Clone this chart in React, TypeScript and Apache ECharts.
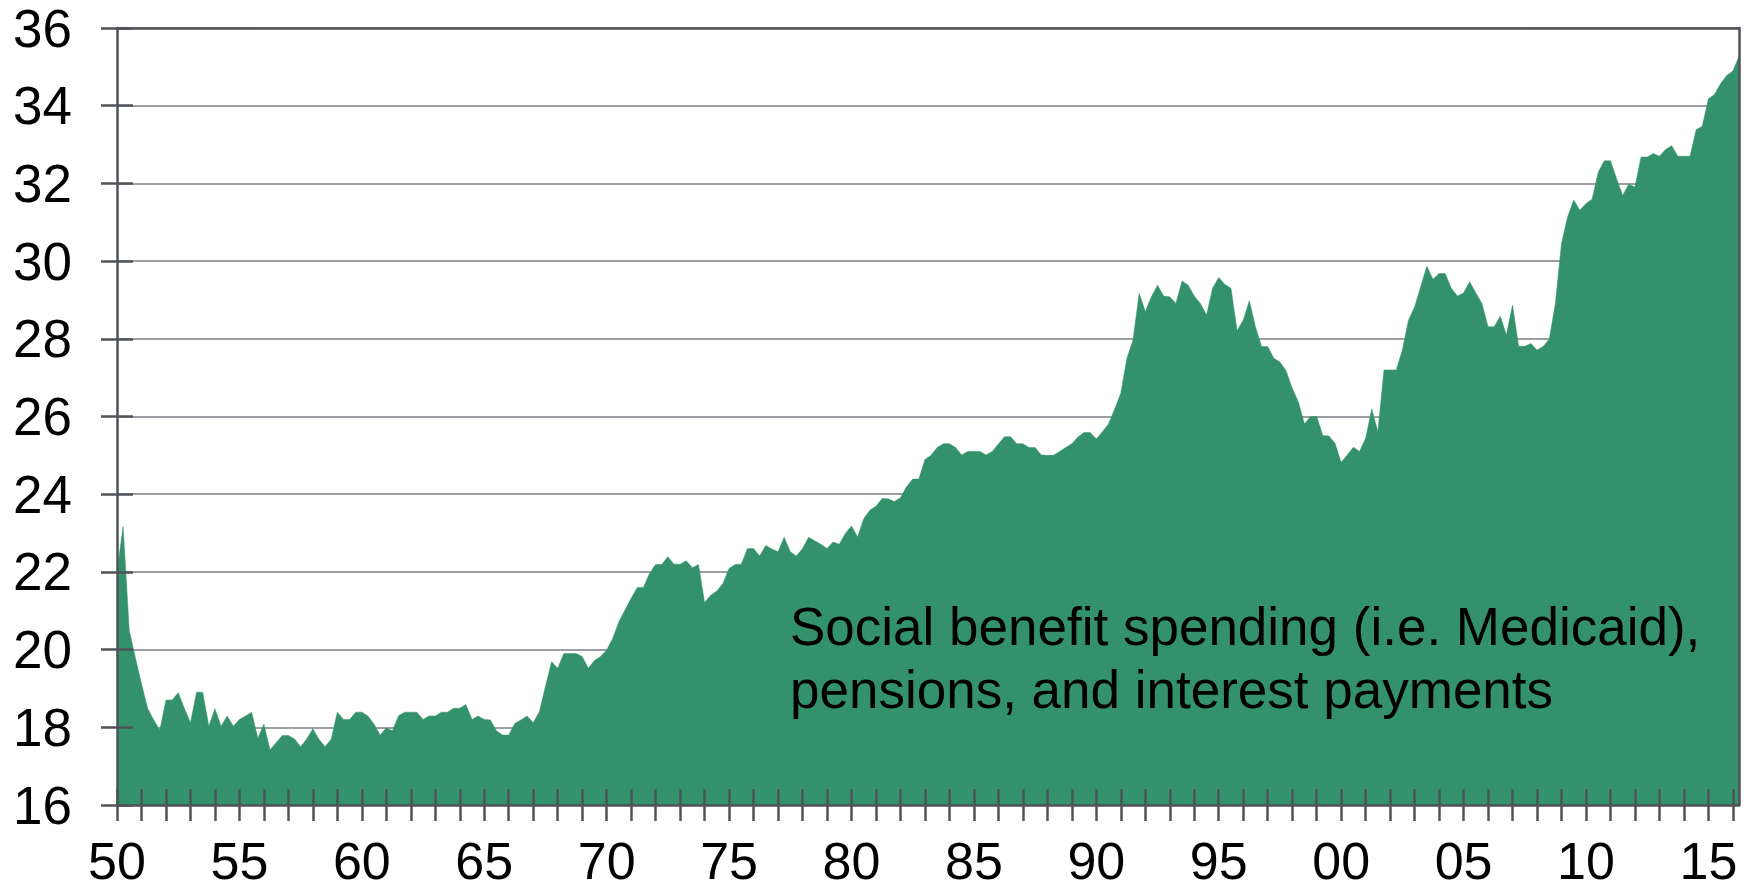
import React, { useEffect, useRef } from "react";
import * as echarts from "echarts";

// Quarterly values, 1950Q1 .. 2016Q2 (percent)
const v1950s = [22.0, 23.17, 20.5, 19.79, 19.12, 18.49, 18.19, 17.93, 18.7, 18.7,
  18.89, 18.49, 18.12, 18.9, 18.9, 18.03, 18.48, 18.03, 18.29, 18.03,
  18.2, 18.29, 18.39, 17.72, 18.08, 17.42, 17.6, 17.79, 17.79, 17.7,
  17.5, 17.7, 17.96, 17.69, 17.5, 17.7, 18.39, 18.2, 18.2, 18.39];
const v1960s = [18.39, 18.29, 18.08, 17.8, 17.99, 17.91, 18.3, 18.39, 18.39, 18.39,
  18.2, 18.29, 18.29, 18.39, 18.39, 18.49, 18.49, 18.59, 18.2, 18.29,
  18.2, 18.19, 17.91, 17.8, 17.8, 18.1, 18.19, 18.29, 18.12, 18.4,
  19.05, 19.69, 19.52, 19.9, 19.9, 19.9, 19.82, 19.52, 19.72, 19.82];
const v1970s = [19.99, 20.29, 20.72, 21.02, 21.32, 21.6, 21.6, 21.96, 22.19, 22.19,
  22.39, 22.2, 22.2, 22.29, 22.11, 22.19, 21.21, 21.4, 21.51, 21.7,
  22.09, 22.19, 22.2, 22.6, 22.6, 22.41, 22.68, 22.59, 22.52, 22.89,
  22.52, 22.41, 22.6, 22.89, 22.8, 22.71, 22.6, 22.77, 22.71, 22.99];
const v1980s = [23.18, 22.9, 23.37, 23.59, 23.69, 23.89, 23.88, 23.81, 23.91, 24.19,
  24.39, 24.39, 24.89, 25.0, 25.2, 25.3, 25.3, 25.2, 25.01, 25.1,
  25.1, 25.1, 25.01, 25.1, 25.29, 25.48, 25.48, 25.3, 25.3, 25.2,
  25.2, 25.01, 25.0, 25.0, 25.1, 25.2, 25.3, 25.47, 25.59, 25.59];
const v1990s = [25.42, 25.61, 25.81, 26.19, 26.6, 27.5, 27.97, 29.17, 28.7, 29.08,
  29.38, 29.1, 29.08, 28.91, 29.49, 29.38, 29.1, 28.91, 28.61, 29.3,
  29.58, 29.4, 29.3, 28.21, 28.48, 28.98, 28.31, 27.8, 27.8, 27.5,
  27.4, 27.18, 26.73, 26.38, 25.81, 26.0, 26.0, 25.51, 25.5, 25.31];
const v2000s = [24.82, 25.01, 25.21, 25.1, 25.44, 26.19, 25.61, 27.2, 27.2, 27.2,
  27.71, 28.48, 28.82, 29.34, 29.87, 29.53, 29.68, 29.68, 29.3, 29.1,
  29.18, 29.47, 29.18, 28.91, 28.31, 28.31, 28.58, 28.1, 28.87, 27.81,
  27.81, 27.88, 27.71, 27.8, 27.99, 28.91, 30.45, 31.14, 31.57, 31.31];
const v2010s = [31.48, 31.59, 32.29, 32.58, 32.58, 32.12, 31.69, 31.98, 31.91, 32.68,
  32.68, 32.77, 32.7, 32.87, 32.97, 32.7, 32.7, 32.7, 33.38, 33.47,
  34.18, 34.29, 34.57, 34.78, 34.89, 35.27];

const values = [...v1950s, ...v1960s, ...v1970s, ...v1980s, ...v1990s, ...v2000s, ...v2010s];

const startYear = 1950;
const quarters = ["Q1", "Q2", "Q3", "Q4"];
const categories: string[] = values.map(
  (_, i) => `${startYear + Math.floor(i / 4)}${quarters[i % 4]}`
);

const annotationLines = ["Social benefit spending (i.e. Medicaid),", "pensions, and interest payments"];

const GREEN = "#33926c";
const AXIS = "#4f5358";
const GRIDC = "#9b9ea2";
const FONT = "'Liberation Sans', Arial, sans-serif";

export default function App() {
  const ref = useRef<HTMLDivElement>(null);
  useEffect(() => {
    if (!ref.current) return;
    const chart = echarts.init(ref.current, undefined, { renderer: "svg" });
    const axisLineStyle = { color: AXIS, width: 2.5 };
    chart.setOption({
      animation: false,
      backgroundColor: "#ffffff",
      grid: { left: 117, right: 13, top: 28, bottom: 86, containLabel: false },
      xAxis: [
        {
          type: "category",
          data: categories,
          boundaryGap: false,
          position: "bottom",
          z: 0,
          axisLine: { show: false, onZero: false },
          axisTick: {
            show: true,
            inside: false,
            length: 16,
            interval: (idx: number) => idx % 4 === 0,
            lineStyle: axisLineStyle,
          },
          axisLabel: {
            show: true,
            interval: (idx: number) => idx % 20 === 0,
            formatter: (v: string, idx: number) => (idx % 20 === 0 ? v.slice(2, 4) : ""),
            fontSize: 52,
            lineHeight: 40,
            fontFamily: FONT,
            color: "#000",
            margin: 36,
          },
          splitLine: { show: false },
        },
        {
          type: "category",
          data: categories,
          boundaryGap: false,
          position: "bottom",
          z: 10,
          axisLine: { show: true, onZero: false, lineStyle: axisLineStyle },
          axisTick: {
            show: true,
            inside: true,
            length: 16,
            interval: (idx: number) => idx % 4 === 0,
            lineStyle: axisLineStyle,
          },
          axisLabel: { show: false },
          splitLine: { show: false },
        },
        {
          type: "category",
          data: categories,
          boundaryGap: false,
          position: "top",
          z: 10,
          axisLine: { show: true, onZero: false, lineStyle: axisLineStyle },
          axisTick: { show: false },
          axisLabel: { show: false },
          splitLine: { show: false },
        },
      ],
      yAxis: [
        {
          type: "value",
          min: 16,
          max: 36,
          interval: 2,
          position: "left",
          z: 0,
          axisLine: { show: false },
          axisTick: { show: true, inside: false, length: 16, lineStyle: axisLineStyle },
          axisLabel: {
            fontSize: 53,
            fontFamily: FONT,
            color: "#000",
            margin: 45,
          },
          splitLine: { show: true, lineStyle: { color: GRIDC, width: 2 } },
        },
        {
          type: "value",
          min: 16,
          max: 36,
          interval: 2,
          position: "left",
          z: 10,
          axisLine: { show: true, onZero: false, lineStyle: axisLineStyle },
          axisTick: { show: true, inside: true, length: 16, lineStyle: axisLineStyle },
          axisLabel: { show: false },
          splitLine: { show: false },
        },
        {
          type: "value",
          min: 16,
          max: 36,
          interval: 2,
          position: "right",
          z: 10,
          axisLine: { show: true, onZero: false, lineStyle: axisLineStyle },
          axisTick: { show: false },
          axisLabel: { show: false },
          splitLine: { show: false },
        },
      ],
      series: [
        {
          type: "line",
          xAxisIndex: 0,
          yAxisIndex: 0,
          data: values,
          showSymbol: false,
          symbol: "none",
          silent: true,
          z: 2,
          lineStyle: { color: GREEN, width: 0.5 },
          areaStyle: { color: GREEN, opacity: 1 },
        },
      ],
      graphic: [
        {
          type: "text",
          left: 790,
          top: 595,
          z: 20,
          style: {
            text: annotationLines.join("\n"),
            font: `53px ${FONT}`,
            lineHeight: 63,
            fill: "#000",
          },
        },
      ],
    });
    return () => chart.dispose();
  }, []);
  return (
    <div
      ref={ref}
      style={{ position: "fixed", left: 0, top: 0, width: 1752, height: 891 }}
    />
  );
}
